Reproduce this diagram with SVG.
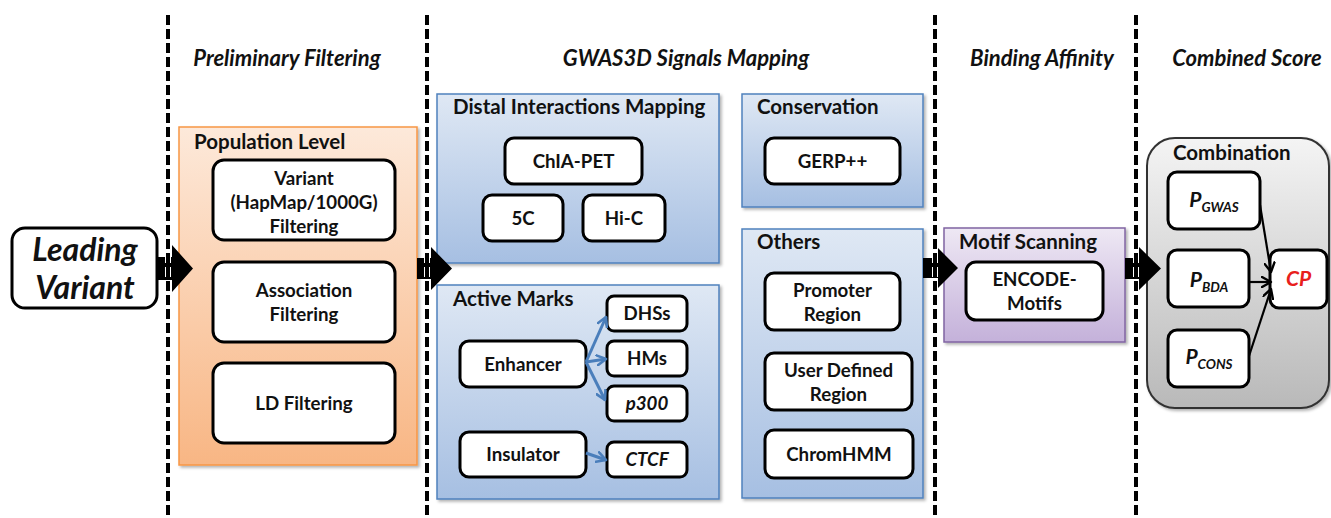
<svg xmlns="http://www.w3.org/2000/svg" width="1331" height="518" viewBox="0 0 1331 518">
  <defs>
    <linearGradient id="gOrange" x1="0" y1="0" x2="0" y2="1">
      <stop offset="0" stop-color="#fde9da"/>
      <stop offset="1" stop-color="#f8b684"/>
    </linearGradient>
    <linearGradient id="gBlue" x1="0" y1="0" x2="0" y2="1">
      <stop offset="0" stop-color="#dfe8f4"/>
      <stop offset="1" stop-color="#a6bfe2"/>
    </linearGradient>
    <linearGradient id="gPurple" x1="0" y1="0" x2="0" y2="1">
      <stop offset="0" stop-color="#eee8f4"/>
      <stop offset="1" stop-color="#c4b1da"/>
    </linearGradient>
    <linearGradient id="gGray" x1="0" y1="0" x2="0" y2="1">
      <stop offset="0" stop-color="#f4f4f4"/>
      <stop offset="1" stop-color="#b9b9b9"/>
    </linearGradient>
    <filter id="shadow" x="-5%" y="-5%" width="115%" height="115%">
      <feDropShadow dx="2" dy="2" stdDeviation="1.5" flood-color="#000" flood-opacity="0.3"/>
    </filter>
    <marker id="blueHead" viewBox="0 0 12 12" refX="10" refY="6" markerWidth="12" markerHeight="12" markerUnits="userSpaceOnUse" orient="auto">
      <path d="M1,1 L10,6 L1,11" fill="none" stroke="#4a7ebb" stroke-width="2.6" stroke-linecap="round" stroke-linejoin="round"/>
    </marker>
    <marker id="blackHead" viewBox="0 0 12 12" refX="10" refY="6" markerWidth="12" markerHeight="12" markerUnits="userSpaceOnUse" orient="auto">
      <path d="M1,1 L10,6 L1,11" fill="none" stroke="#000" stroke-width="2.4" stroke-linecap="round" stroke-linejoin="round"/>
    </marker>
  </defs>
  <style>
    text { font-family: Lato, "Open Sans", "Liberation Sans", sans-serif; font-weight: bold; fill: #111; }
    .hdr { font-size: 22px; font-style: italic; text-anchor: middle; }
    .ttl { font-size: 20.5px; }
    .lbl { font-size: 18.7px; text-anchor: middle; }
    .it { font-style: italic; }
    .pv { font-size: 21px; font-style: italic; text-anchor: middle; }
    .sub { font-size: 13.5px; }
    .node { fill: #fff; stroke: #000; stroke-width: 3; }
    .divider { stroke: #000; stroke-width: 4; stroke-dasharray: 10 4; fill: none; }
    .dividerHalo { stroke: #fff; stroke-width: 6; stroke-dasharray: 10 4; fill: none; }
    .block { fill: #000; }
    .blue { stroke: #4a7ebb; stroke-width: 3; fill: none; marker-end: url(#blueHead); }
    .thin { stroke: #000; stroke-width: 2.2; fill: none; marker-end: url(#blackHead); }
  </style>

  <rect width="1331" height="518" fill="#fff"/>

  <!-- stage panels -->
  <g id="population-level">
    <rect x="179" y="127" width="238" height="338" fill="url(#gOrange)" stroke="#f79646" stroke-width="1.5" filter="url(#shadow)"/>
    <text class="ttl" x="194" y="149">Population Level</text>
  </g>
  <g id="distal-interactions">
    <rect x="437" y="94" width="282" height="169" fill="url(#gBlue)" stroke="#4f81bd" stroke-width="1.5" filter="url(#shadow)"/>
    <text class="ttl" x="453" y="114">Distal Interactions Mapping</text>
  </g>
  <g id="active-marks">
    <rect x="437" y="285" width="282" height="214" fill="url(#gBlue)" stroke="#4f81bd" stroke-width="1.5" filter="url(#shadow)"/>
    <text class="ttl" x="453" y="306">Active Marks</text>
  </g>
  <g id="conservation">
    <rect x="742" y="94" width="181" height="113" fill="url(#gBlue)" stroke="#4f81bd" stroke-width="1.5" filter="url(#shadow)"/>
    <text class="ttl" x="757" y="114">Conservation</text>
  </g>
  <g id="others">
    <rect x="742" y="229" width="181" height="269" fill="url(#gBlue)" stroke="#4f81bd" stroke-width="1.5" filter="url(#shadow)"/>
    <text class="ttl" x="757" y="249">Others</text>
  </g>
  <g id="motif-scanning">
    <rect x="944" y="228" width="181" height="114" fill="url(#gPurple)" stroke="#8064a2" stroke-width="1.5" filter="url(#shadow)"/>
    <text class="ttl" x="959" y="249">Motif Scanning</text>
  </g>
  <g id="combination">
    <rect x="1147" y="138" width="182" height="270" rx="28" fill="url(#gGray)" stroke="#333" stroke-width="2" filter="url(#shadow)"/>
    <text class="ttl" x="1173" y="160">Combination</text>
  </g>

  <!-- stage headings -->
  <g id="headings">
    <text class="hdr" x="287" y="66">Preliminary Filtering</text>
    <text class="hdr" x="686" y="66">GWAS3D Signals Mapping</text>
    <text class="hdr" x="1042" y="66">Binding Affinity</text>
    <text class="hdr" x="1247" y="66">Combined Score</text>
  </g>

  <!-- nodes -->
  <g id="leading-variant">
    <rect class="node" x="12" y="228" width="145" height="80" rx="13"/>
    <text class="it" x="85" y="261" font-size="32" text-anchor="middle">Leading</text>
    <text class="it" x="85" y="299" font-size="32" text-anchor="middle">Variant</text>
  </g>
  <g id="variant-filtering">
    <rect class="node" x="213" y="160" width="182" height="80" rx="11"/>
    <text class="lbl" x="304" y="185">Variant</text>
    <text class="lbl" x="304" y="209">(HapMap/1000G)</text>
    <text class="lbl" x="304" y="233">Filtering</text>
  </g>
  <g id="association-filtering">
    <rect class="node" x="213" y="262" width="182" height="80" rx="11"/>
    <text class="lbl" x="304" y="297">Association</text>
    <text class="lbl" x="304" y="321">Filtering</text>
  </g>
  <g id="ld-filtering">
    <rect class="node" x="213" y="363" width="182" height="80" rx="11"/>
    <text class="lbl" x="304" y="410">LD Filtering</text>
  </g>

  <g id="chia-pet">
    <rect class="node" x="505" y="138" width="137" height="46" rx="9"/>
    <text class="lbl" x="573.5" y="168">ChIA-PET</text>
  </g>
  <g id="five-c">
    <rect class="node" x="483" y="195" width="80" height="46" rx="9"/>
    <text class="lbl" x="523" y="225">5C</text>
  </g>
  <g id="hi-c">
    <rect class="node" x="583" y="195" width="82" height="46" rx="9"/>
    <text class="lbl" x="624" y="225">Hi-C</text>
  </g>

  <g id="enhancer">
    <rect class="node" x="460" y="341" width="126" height="46" rx="9"/>
    <text class="lbl" x="523" y="371">Enhancer</text>
  </g>
  <g id="insulator">
    <rect class="node" x="460" y="432" width="126" height="45" rx="9"/>
    <text class="lbl" x="523" y="461">Insulator</text>
  </g>
  <g id="dhss">
    <rect class="node" x="607" y="296" width="80" height="35" rx="7"/>
    <text class="lbl" x="647" y="320">DHSs</text>
  </g>
  <g id="hms">
    <rect class="node" x="607" y="341" width="80" height="35" rx="7"/>
    <text class="lbl" x="647" y="365">HMs</text>
  </g>
  <g id="p300">
    <rect class="node" x="607" y="386" width="80" height="35" rx="7"/>
    <text class="lbl it" x="647" y="410">p300</text>
  </g>
  <g id="ctcf">
    <rect class="node" x="607" y="442" width="80" height="35" rx="7"/>
    <text class="lbl it" x="647" y="466">CTCF</text>
  </g>

  <g id="gerp">
    <rect class="node" x="765" y="138" width="135" height="46" rx="9"/>
    <text class="lbl" x="832.5" y="168">GERP++</text>
  </g>
  <g id="promoter-region">
    <rect class="node" x="765" y="273" width="135" height="57" rx="9"/>
    <text class="lbl" x="832.5" y="297">Promoter</text>
    <text class="lbl" x="832.5" y="321">Region</text>
  </g>
  <g id="user-defined-region">
    <rect class="node" x="765" y="353" width="147" height="57" rx="9"/>
    <text class="lbl" x="838.5" y="377">User Defined</text>
    <text class="lbl" x="838.5" y="401">Region</text>
  </g>
  <g id="chromhmm">
    <rect class="node" x="765" y="430" width="148" height="48" rx="9"/>
    <text class="lbl" x="839" y="461">ChromHMM</text>
  </g>

  <g id="encode-motifs">
    <rect class="node" x="966" y="262" width="137" height="58" rx="10"/>
    <text class="lbl" x="1034.5" y="286">ENCODE-</text>
    <text class="lbl" x="1034.5" y="310">Motifs</text>
  </g>

  <g id="p-gwas">
    <rect class="node" x="1168" y="172" width="92" height="57" rx="9"/>
    <text class="pv" x="1214" y="207">P<tspan class="sub" dy="5">GWAS</tspan></text>
  </g>
  <g id="p-bda">
    <rect class="node" x="1168" y="250" width="81" height="57" rx="9"/>
    <text class="pv" x="1209" y="287">P<tspan class="sub" dy="5">BDA</tspan></text>
  </g>
  <g id="p-cons">
    <rect class="node" x="1168" y="330" width="81" height="57" rx="9"/>
    <text class="pv" x="1209" y="364">P<tspan class="sub" dy="5">CONS</tspan></text>
  </g>
  <g id="cp">
    <rect class="node" x="1270" y="250" width="57" height="58" rx="9"/>
    <text class="it" x="1298.5" y="286" font-size="21" text-anchor="middle" style="fill:#e8201c">CP</text>
  </g>

  <!-- connectors -->
  <g id="connectors">
    <polygon class="block" points="157,257 172,257 172,245 193,268.5 172,292 172,280 157,280"/>
    <polygon class="block" points="417,258 431,258 431,247 452,268.5 431,290 431,279 417,279"/>
    <polygon class="block" points="923,258 938,258 938,248 958,268 938,288 938,278 923,278"/>
    <polygon class="block" points="1125,258 1139,258 1139,247 1161,268.5 1139,290 1139,279 1125,279"/>

    <path class="blue" d="M586,362 L606,317"/>
    <path class="blue" d="M586,362 L606,359"/>
    <path class="blue" d="M586,362 L605,400"/>
    <path class="blue" d="M586,453 L606,460"/>

    <path class="thin" d="M1260,205 L1271,272"/>
    <path class="thin" d="M1249,282 L1271,282"/>
    <path class="thin" d="M1249,356 L1271,289"/>

    <!-- stage dividers drawn over the block arrows -->
    <path class="dividerHalo" d="M168,15 V518 M427,15 V518 M935,15 V518 M1136,15 V518"/>
    <path class="divider" d="M168,15 V518 M427,15 V518 M935,15 V518 M1136,15 V518"/>
  </g>
</svg>
